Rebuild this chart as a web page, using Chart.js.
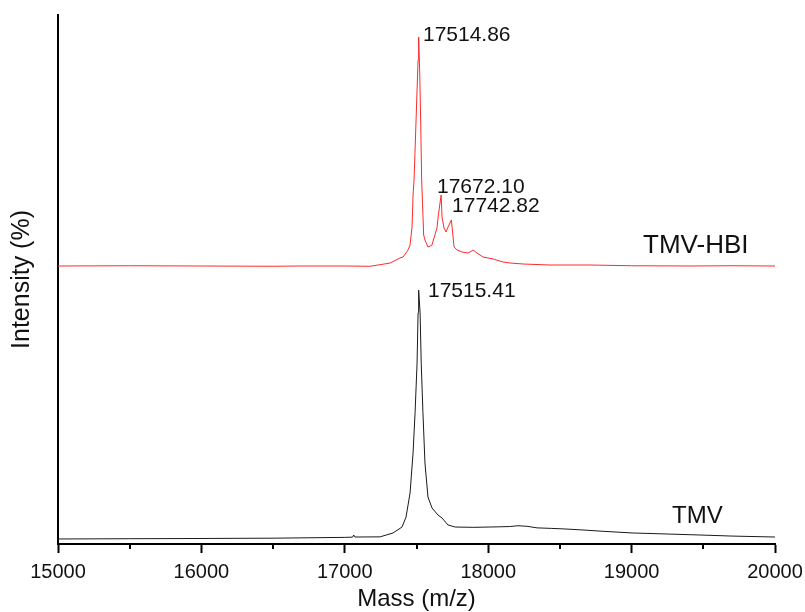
<!DOCTYPE html>
<html>
<head>
<meta charset="utf-8">
<script src="https://cdn.jsdelivr.net/npm/chart.js@4/dist/chart.umd.min.js"></script>
<style>
  html, body { margin: 0; padding: 0; background: #fff; }
  #wrap { width: 805px; height: 612px; }
</style>
</head>
<body>
<div id="wrap"><canvas id="chart" width="805" height="612"></canvas></div>
<script>
'use strict';

// TMV spectrum (mass, relative intensity)
const tmvMass = [15000, 15500, 15990, 16500, 17000, 17055, 17062, 17071, 17246, 17336, 17399, 17427, 17455, 17476,
    17490, 17504, 17511, 17515, 17525, 17533, 17545, 17559, 17580, 17608, 17650, 17678, 17720, 17769, 17900,
    18082, 18150, 18208, 18270, 18341, 18440, 18536, 18661, 18800, 19010, 19247, 19477, 19700, 20000];
const tmvIntensity = [0.95, 1.0, 1.04, 1.1, 1.25, 1.3, 1.7, 1.32, 1.35, 2.08, 3.21, 5.10, 9.64, 17.2,
    24.8, 34.2, 43.7, 48.0, 43.7, 34.2, 24.8, 15.3, 8.88, 6.81, 5.48, 4.91, 3.59, 3.21, 3.15,
    3.25, 3.3, 3.45, 3.35, 3.05, 2.95, 2.84, 2.65, 2.4, 2.08, 1.89, 1.70, 1.5, 1.32];

// TMV-HBI spectrum, offset above the TMV trace
const hbiMass = [15000, 15500, 15990, 16500, 16688, 17000, 17176, 17315, 17385, 17406, 17441, 17455, 17469, 17476,
    17483, 17497, 17511, 17515, 17522, 17529, 17536, 17545, 17550, 17559, 17580, 17594, 17608, 17622, 17643,
    17650, 17664, 17672, 17678, 17692, 17706, 17720, 17727, 17743, 17748, 17762, 17783, 17817, 17859, 17880,
    17894, 17922, 17964, 18034, 18103, 18152, 18243, 18431, 18710, 19000, 19407, 19700, 20000];
const hbiIntensity = [52.55, 52.6, 52.55, 52.5, 52.55, 52.55, 52.5, 53.1, 54.06, 54.25, 55.58, 56.52, 59.92, 65.97,
    68.81, 80.15, 91.5, 95.84, 89.6, 80.15, 68.81, 62.2, 58.41, 57.47, 56.14, 56.3, 56.52, 57.84, 59.74,
    61.63, 64.46, 65.97, 61.81, 59.74, 58.98, 59.92, 60.30, 61.25, 59.92, 56.14, 55.58, 55.20, 55.01, 55.3,
    55.58, 55.01, 54.25, 53.88, 53.31, 53.12, 52.93, 52.74, 52.74, 52.6, 52.55, 52.6, 52.55];

// peak labels: text, anchor mass, anchor intensity
const peakLabels = ['17514.86', '17672.10', '17742.82', '17515.41'];
const peakLabelMass = [17545, 17643, 17748, 17580];
const peakLabelIntensity = [96.2, 67.5, 63.8, 47.7];

// trace names
const traceNames = ['TMV-HBI', 'TMV'];
const traceNameMass = [19080, 19282];
const traceNameIntensity = [56.3, 5.3];
const traceNameSize = [26, 24];

const minorTickValues = [15500, 16500, 17500, 18500, 19500];
const xTitle = 'Mass (m/z)';

const FONT = '"Liberation Sans", Arial, sans-serif';

function toPoints(xs, ys) {
    return xs.map((x, i) => ({ x: x, y: ys[i] }));
}

const textPlugin = {
    id: 'spectrumText',
    afterDraw: function (chart) {
        const ctx = chart.ctx;
        const xs = chart.scales.x;
        const ys = chart.scales.y;

        ctx.save();
        // minor ticks on the mass axis
        ctx.strokeStyle = '#000';
        ctx.lineWidth = 2;
        minorTickValues.forEach((v) => {
            const px = Math.round(xs.getPixelForValue(v));
            ctx.beginPath();
            ctx.moveTo(px, ys.bottom);
            ctx.lineTo(px, ys.bottom + 5);
            ctx.stroke();
        });

        ctx.fillStyle = '#111';
        ctx.textAlign = 'left';
        ctx.textBaseline = 'middle';
        ctx.font = '21px ' + FONT;
        peakLabels.forEach((t, i) => {
            ctx.fillText(t, xs.getPixelForValue(peakLabelMass[i]), ys.getPixelForValue(peakLabelIntensity[i]));
        });

        traceNames.forEach((t, i) => {
            ctx.font = traceNameSize[i] + 'px ' + FONT;
            ctx.fillText(t, xs.getPixelForValue(traceNameMass[i]), ys.getPixelForValue(traceNameIntensity[i]));
        });

        // axis title under the tick labels
        ctx.textAlign = 'center';
        ctx.font = '24px ' + FONT;
        ctx.fillText(xTitle, (xs.left + xs.right) / 2, ys.bottom + 55);
        ctx.restore();
    }
};

const ctx = document.getElementById('chart').getContext('2d');
const chart = new Chart(ctx, {
    type: 'line',
    data: {
        datasets: [{
            label: 'TMV-HBI',
            data: toPoints(hbiMass, hbiIntensity),
            borderColor: '#ff2a2a',
            borderWidth: 1,
            pointRadius: 0,
            tension: 0,
            fill: false
        }, {
            label: 'TMV',
            data: toPoints(tmvMass, tmvIntensity),
            borderColor: '#1a1a1a',
            borderWidth: 1,
            pointRadius: 0,
            tension: 0,
            fill: false
        }]
    },
    options: {
        responsive: false,
        animation: false,
        parsing: false,
        layout: {
            padding: { top: 15, right: 30, left: 7, bottom: 21 }
        },
        plugins: {
            legend: { display: false },
            tooltip: { enabled: false }
        },
        scales: {
            x: {
                type: 'linear',
                min: 15000,
                max: 20000,
                afterFit: function (scale) {
                    scale.paddingLeft = 0;
                    scale.paddingRight = 0;
                },
                border: { display: true, color: '#000', width: 2 },
                grid: {
                    display: true,
                    drawOnChartArea: false,
                    drawTicks: true,
                    tickLength: 9,
                    tickWidth: 2,
                    tickColor: '#000'
                },
                ticks: {
                    stepSize: 1000,
                    padding: 9,
                    color: '#111',
                    maxRotation: 0,
                    font: { family: FONT, size: 20, lineHeight: 1 },
                    callback: function (value) { return String(value); }
                }
            },
            y: {
                min: 0,
                max: 100,
                border: { display: true, color: '#000', width: 2 },
                grid: { display: false, drawTicks: false },
                ticks: { display: false },
                title: {
                    display: true,
                    text: 'Intensity (%)',
                    color: '#111',
                    padding: { top: 0, bottom: 21 },
                    font: { family: FONT, size: 25 }
                }
            }
        }
    },
    plugins: [textPlugin]
});
</script>
</body>
</html>
